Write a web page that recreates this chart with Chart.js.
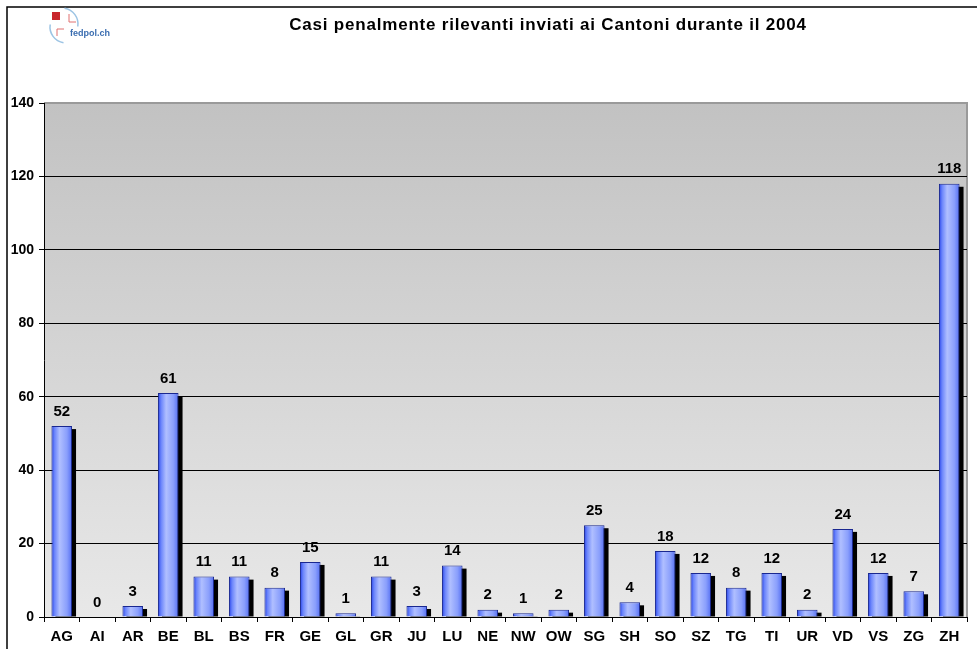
<!DOCTYPE html>
<html>
<head>
<meta charset="utf-8">
<script src="https://cdn.jsdelivr.net/npm/chart.js@4.4.1/dist/chart.umd.min.js"></script>
<style>
  html, body { margin: 0; padding: 0; background: #fff; overflow: hidden; }
  canvas { display: block; }
</style>
</head>
<body>
<canvas id="casiChart" width="978" height="649"></canvas>
<script>
const cantoni = ['AG', 'AI', 'AR', 'BE', 'BL', 'BS', 'FR', 'GE', 'GL', 'GR', 'JU', 'LU', 'NE', 'NW', 'OW', 'SG', 'SH', 'SO', 'SZ', 'TG', 'TI', 'UR', 'VD', 'VS', 'ZG', 'ZH'];
const casi = [52, 0, 3, 61, 11, 11, 8, 15, 1, 11, 3, 14, 2, 1, 2, 25, 4, 18, 12, 8, 12, 2, 24, 12, 7, 118];
const yTicks = [0, 20, 40, 60, 80, 100, 120, 140];
const titolo = 'Casi penalmente rilevanti inviati ai Cantoni durante il 2004';

const FONT = '"Liberation Sans", Arial, sans-serif';
const BAR_PCT = 0.58;

function barWidth(chart) {
   return chart.scales.x.width / cantoni.length * BAR_PCT;
}

// frame, logo, plot background and title
const decor = {
   id: 'decor',
   beforeDraw(chart) {
      const c = chart.ctx, a = chart.chartArea;
      c.save();
      c.fillStyle = '#fff';
      c.fillRect(0, 0, chart.width, chart.height);
      c.strokeStyle = '#000';
      c.lineWidth = 1.5;
      c.beginPath();
      c.moveTo(7, chart.height);
      c.lineTo(7, 7);
      c.lineTo(977, 7);
      c.stroke();

      const g = c.createLinearGradient(0, a.top, 0, a.bottom);
      g.addColorStop(0, '#c2c2c2');
      g.addColorStop(1, '#e8e8e8');
      c.fillStyle = g;
      c.fillRect(a.left, a.top, a.right - a.left, a.bottom - a.top);
      c.strokeStyle = '#9a9a9a';
      c.lineWidth = 2;
      c.beginPath();
      c.moveTo(a.left, a.top);
      c.lineTo(a.right, a.top);
      c.lineTo(a.right, a.bottom);
      c.stroke();

      // logo
      c.fillStyle = '#c8262c';
      c.fillRect(52, 12, 8, 8);
      c.strokeStyle = '#e07070';
      c.lineWidth = 1;
      c.beginPath();
      c.moveTo(69, 14); c.lineTo(69, 22); c.lineTo(76, 22);
      c.moveTo(64, 29); c.lineTo(57, 29); c.lineTo(57, 36);
      c.stroke();
      c.strokeStyle = '#9cc4e4';
      c.lineWidth = 1.5;
      c.beginPath();
      c.arc(66, 27, 16, Math.PI * 0.55, Math.PI * 1.05);
      c.stroke();
      c.beginPath();
      c.arc(62, 24, 16, -Math.PI * 0.45, Math.PI * 0.05);
      c.stroke();
      c.fillStyle = '#3a6db0';
      c.font = 'bold 9px ' + FONT;
      c.textBaseline = 'middle';
      c.fillText('fedpol.ch', 70, 34);

      c.fillStyle = '#000';
      c.font = 'bold 17px ' + FONT;
      c.letterSpacing = '0.8px';
      c.textAlign = 'center';
      c.textBaseline = 'alphabetic';
      c.fillText(titolo, 548, 29.5);
      c.letterSpacing = '0px';
      c.restore();
   },
   beforeDatasetsDraw(chart) {
      // shadows behind bars
      const c = chart.ctx;
      const w = barWidth(chart);
      c.save();
      c.fillStyle = '#000';
      chart.getDatasetMeta(0).data.forEach(function(bar, i) {
         if (!casi[i]) return;
         c.fillRect(bar.x - w / 2 + 4, bar.y + 3, w, bar.base - bar.y - 3);
      });
      c.restore();
   },
   afterDatasetsDraw(chart) {
      const c = chart.ctx;
      c.save();
      c.fillStyle = '#000';
      c.font = 'bold 15px ' + FONT;
      c.textAlign = 'center';
      c.textBaseline = 'bottom';
      chart.getDatasetMeta(0).data.forEach(function(bar, i) {
         c.fillText(String(casi[i]), bar.x, bar.y - 7);
      });
      c.restore();
   }
};

const ctx = document.getElementById('casiChart').getContext('2d');
const casiChart = new Chart(ctx, {
   type: 'bar',
   data: {
      labels: cantoni,
      datasets: [
         {
            data: casi,
            borderColor: '#1a2890',
            borderWidth: 1,
            borderSkipped: 'bottom',
            categoryPercentage: 1,
            barPercentage: BAR_PCT,
            backgroundColor: function(context) {
               const chart = context.chart;
               if (!chart.chartArea) return '#7d92f4';
               const x = chart.scales.x.getPixelForValue(context.dataIndex);
               const w = barWidth(chart);
               const g = chart.ctx.createLinearGradient(x - w / 2, 0, x + w / 2, 0);
               g.addColorStop(0, '#2642e8');
               g.addColorStop(0.15, '#6a84fb');
               g.addColorStop(0.4, '#b0bfff');
               g.addColorStop(0.75, '#8a9ffc');
               g.addColorStop(1, '#546ef2');
               return g;
            }
         }
      ]
   },
   options: {
      responsive: false,
      animation: false,
      devicePixelRatio: 1,
      layout: {
         padding: { left: 0, top: 103, right: 11, bottom: 0 }
      },
      plugins: {
         legend: { display: false },
         tooltip: { enabled: false }
      },
      scales: {
         x: {
            offset: true,
            grid: {
               offset: true,
               drawOnChartArea: false,
               drawTicks: true,
               tickLength: 5,
               tickColor: '#000'
            },
            border: { color: '#000', width: 1 },
            ticks: {
               color: '#000',
               padding: 6,
               autoSkip: false,
               maxRotation: 0,
               font: { family: FONT, size: 15, weight: 'bold' }
            },
            afterFit: function(scale) { scale.height = 32; }
         },
         y: {
            min: 0,
            max: 140,
            afterBuildTicks: function(scale) {
               scale.ticks = yTicks.map(function(v) { return { value: v }; });
            },
            grid: {
               color: function(c) { return c.tick.value === 140 ? 'rgba(0,0,0,0)' : '#000'; },
               lineWidth: 1,
               tickLength: 5,
               tickColor: '#000'
            },
            border: { color: '#000', width: 1 },
            ticks: {
               color: '#000',
               padding: 5,
               font: { family: FONT, size: 14, weight: 'bold' }
            },
            afterFit: function(scale) { scale.width = 44; }
         }
      }
   },
   plugins: [decor]
});
</script>
</body>
</html>
